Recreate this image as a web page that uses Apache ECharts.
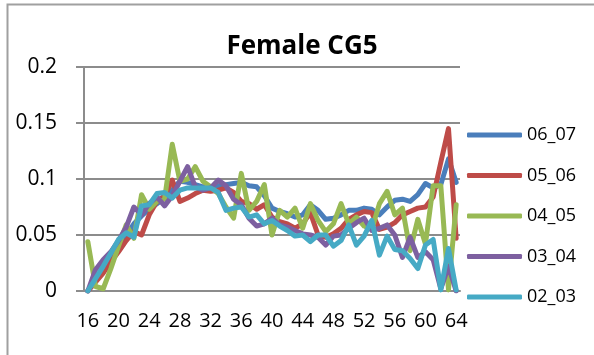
<!DOCTYPE html>
<html>
<head>
<meta charset="utf-8">
<script src="https://cdn.jsdelivr.net/npm/echarts@6/dist/echarts.min.js"></script>
<style>
  html, body { margin: 0; padding: 0; background: #ffffff; }
  #chart { width: 594px; height: 355px; }
</style>
</head>
<body>
<div id="chart"></div>
<script>
// Ages 16..64
const ages = [];
for (let a = 16; a <= 64; a++) ages.push(String(a));

const seriesNames = ['06_07', '05_06', '04_05', '03_04', '02_03'];

const s06_07 = [0, 0.01, 0.018, 0.028, 0.038, 0.05, 0.06, 0.067, 0.073, 0.078,
  0.083, 0.09, 0.098, 0.097, 0.095, 0.093, 0.093, 0.094, 0.095, 0.096,
  0.097, 0.094, 0.093, 0.085, 0.074, 0.071, 0.069, 0.066, 0.068, 0.077,
  0.072, 0.064, 0.065, 0.068, 0.072, 0.072, 0.074, 0.073, 0.068, 0.075,
  0.081, 0.082, 0.08, 0.086, 0.096, 0.092, 0.095, 0.118, 0.097];

const s05_06 = [0, 0.008, 0.016, 0.026, 0.035, 0.045, 0.053, 0.05, 0.068, 0.08,
  0.085, 0.099, 0.08, 0.083, 0.087, 0.09, 0.089, 0.09, 0.092, 0.088,
  0.08, 0.078, 0.073, 0.077, 0.066, 0.062, 0.06, 0.056, 0.06, 0.07,
  0.05, 0.048, 0.051, 0.056, 0.064, 0.068, 0.071, 0.07, 0.055, 0.057,
  0.061, 0.068, 0.071, 0.074, 0.075, 0.084, 0.115, 0.145, 0.047];

const s04_05 = [0.044, 0.004, 0.002, 0.02, 0.04, 0.059, 0.047, 0.086, 0.073, 0.08,
  0.082, 0.131, 0.098, 0.1, 0.111, 0.098, 0.093, 0.087, 0.075, 0.065,
  0.105, 0.072, 0.08, 0.095, 0.05, 0.072, 0.066, 0.074, 0.056, 0.078,
  0.063, 0.053, 0.06, 0.078, 0.06, 0.066, 0.058, 0.055, 0.078, 0.089,
  0.068, 0.074, 0.036, 0.064, 0.042, 0.094, 0.094, 0.001, 0.077];

const s03_04 = [0, 0.019, 0.028, 0.035, 0.045, 0.057, 0.075, 0.068, 0.078, 0.084,
  0.076, 0.085, 0.098, 0.111, 0.093, 0.09, 0.092, 0.099, 0.094, 0.082,
  0.077, 0.065, 0.058, 0.06, 0.065, 0.059, 0.057, 0.054, 0.051, 0.05,
  0.048, 0.041, 0.049, 0.05, 0.056, 0.061, 0.065, 0.054, 0.056, 0.059,
  0.05, 0.03, 0.048, 0.03, 0.035, 0.028, 0.002, 0.022, 0];

const s02_03 = [0, 0.011, 0.022, 0.034, 0.046, 0.052, 0.048, 0.076, 0.077, 0.087,
  0.088, 0.083, 0.09, 0.092, 0.092, 0.092, 0.092, 0.088, 0.072, 0.074,
  0.075, 0.066, 0.068, 0.06, 0.063, 0.058, 0.054, 0.049, 0.05, 0.044,
  0.05, 0.05, 0.04, 0.045, 0.059, 0.041, 0.049, 0.063, 0.032, 0.049,
  0.037, 0.036, 0.029, 0.02, 0.041, 0.046, 0.001, 0.038, 0.001];

const seriesData = [s06_07, s05_06, s04_05, s03_04, s02_03];
const colors = ['#4A7EBB', '#BE4B48', '#98B954', '#7D60A0', '#46AAC5'];

const FONT = '"Open Sans", "Liberation Sans", sans-serif';
const GRID_GRAY = '#8c8c8c';

const chart = echarts.init(document.getElementById('chart'), null, { renderer: 'canvas' });

chart.setOption({
  animation: false,
  backgroundColor: '#ffffff',
  color: colors,
  graphic: [
    {
      type: 'rect',
      shape: { x: 7.5, y: 4.5, width: 700, height: 600 },
      style: { fill: 'none', stroke: '#a0a0a0', lineWidth: 2 },
      silent: true
    },
    {
      type: 'text',
      x: 302,
      y: 47,
      style: {
        text: 'Female CG5',
        font: 'bold 26px ' + FONT,
        fill: '#000000',
        textAlign: 'center',
        textVerticalAlign: 'middle'
      },
      silent: true
    }
  ],
  legend: {
    orient: 'vertical',
    left: 462,
    top: 120,
    itemWidth: 55,
    itemHeight: 5,
    itemGap: 20.5,
    icon: 'roundRect',
    data: seriesNames,
    textStyle: { fontFamily: FONT, fontSize: 18, color: '#000000', lineHeight: 20 }
  },
  grid: { left: 84, right: 134, top: 67, bottom: 64, containLabel: false },
  xAxis: {
    type: 'category',
    data: ages,
    boundaryGap: true,
    axisLine: { lineStyle: { color: GRID_GRAY, width: 2 } },
    axisTick: { interval: 3, length: 6, lineStyle: { color: GRID_GRAY, width: 2 } },
    axisLabel: { interval: 3, margin: 20, fontFamily: FONT, fontSize: 20, color: '#000000' },
    splitLine: { show: false }
  },
  yAxis: {
    type: 'value',
    min: 0,
    max: 0.2,
    interval: 0.05,
    axisLine: { show: true, lineStyle: { color: GRID_GRAY, width: 2 } },
    axisTick: { show: true, length: 8, lineStyle: { color: GRID_GRAY, width: 2 } },
    axisLabel: { margin: 27, fontFamily: FONT, fontSize: 21, color: '#000000' },
    splitLine: { lineStyle: { color: GRID_GRAY, width: 2 } }
  },
  series: seriesNames.map((name, i) => ({
    name: name,
    type: 'line',
    data: seriesData[i],
    showSymbol: false,
    symbol: 'none',
    lineStyle: { width: 5, color: colors[i], join: 'round', cap: 'round' },
    itemStyle: { color: colors[i] },
    z: 2 + i
  }))
});
</script>
</body>
</html>
